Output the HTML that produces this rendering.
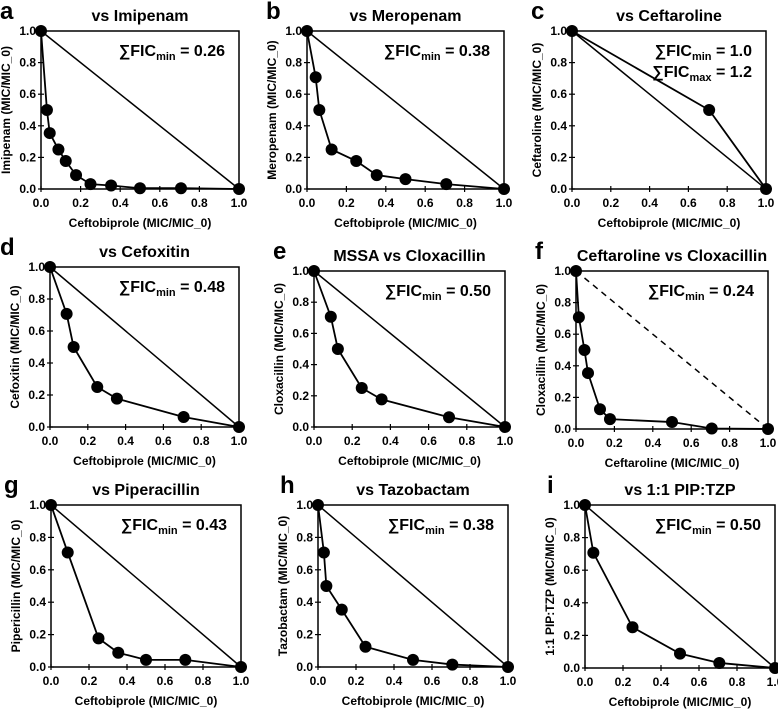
<!DOCTYPE html>
<html><head><meta charset="utf-8"><style>
body{margin:0;background:#fff;width:778px;height:709px;overflow:hidden}
svg text{font-family:"Liberation Sans",sans-serif;font-weight:bold;fill:#000}
</style></head><body>
<svg id="fig" width="778" height="709" xmlns="http://www.w3.org/2000/svg"></svg>
<script>
const tickLabels = ["0.0","0.2","0.4","0.6","0.8","1.0"];
const tickValues = [0,0.2,0.4,0.6,0.8,1.0];
const aX=[0,0.03,0.044,0.088,0.125,0.177,0.25,0.354,0.5,0.707,1];
const aY=[1,0.5,0.354,0.25,0.177,0.088,0.031,0.022,0.005,0.005,0];
const bX=[0,0.044,0.0625,0.125,0.25,0.354,0.5,0.707,1];
const bY=[1,0.707,0.5,0.25,0.177,0.088,0.0625,0.031,0];
const cX=[0,0.707,1];
const cY=[1,0.5,0];
const dX=[0,0.088,0.125,0.25,0.354,0.707,1];
const dY=[1,0.707,0.5,0.25,0.177,0.0625,0];
const eX=[0,0.088,0.125,0.25,0.354,0.707,1];
const eY=[1,0.707,0.5,0.25,0.177,0.0625,0];
const fX=[0,0.015,0.044,0.0625,0.125,0.177,0.5,0.707,1];
const fY=[1,0.707,0.5,0.354,0.125,0.0625,0.044,0.003,0];
const gX=[0,0.088,0.25,0.354,0.5,0.707,1];
const gY=[1,0.707,0.177,0.088,0.044,0.044,0];
const hX=[0,0.031,0.044,0.125,0.25,0.5,0.707,1];
const hY=[1,0.707,0.5,0.354,0.125,0.044,0.015,0];
const iX=[0,0.044,0.25,0.5,0.707,1];
const iY=[1,0.707,0.25,0.088,0.031,0];

const panels=[
 {id:'a',title:'vs Imipenam',yt:'Imipenam (MIC/MIC_0)',xt:'Ceftobiprole (MIC/MIC_0)',x:aX,y:aY,L:41,R:239,T:31,B:189,ann:[['min','0.26']]},
 {id:'b',title:'vs Meropenam',yt:'Meropenam (MIC/MIC_0)',xt:'Ceftobiprole (MIC/MIC_0)',x:bX,y:bY,L:307,R:504,T:31,B:189,ann:[['min','0.38']]},
 {id:'c',title:'vs Ceftaroline',yt:'Ceftaroline (MIC/MIC_0)',xt:'Ceftobiprole (MIC/MIC_0)',x:cX,y:cY,L:572,R:766,T:31,B:189,ann:[['min','1.0'],['max','1.2']]},
 {id:'d',title:'vs Cefoxitin',yt:'Cefoxitin (MIC/MIC_0)',xt:'Ceftobiprole (MIC/MIC_0)',x:dX,y:dY,L:50,R:239,T:267,B:427,ann:[['min','0.48']]},
 {id:'e',title:'MSSA vs Cloxacillin',yt:'Cloxacillin (MIC/MIC_0)',xt:'Ceftobiprole (MIC/MIC_0)',x:eX,y:eY,L:314,R:505,T:271,B:427,ann:[['min','0.50']]},
 {id:'f',title:'Ceftaroline vs Cloxacillin',yt:'Cloxacillin (MIC/MIC_0)',xt:'Ceftaroline (MIC/MIC_0)',x:fX,y:fY,L:576,R:768,T:271,B:429,ann:[['min','0.24']],dash:true},
 {id:'g',title:'vs Piperacillin',yt:'Pipericillin (MIC/MIC_0)',xt:'Ceftobiprole (MIC/MIC_0)',x:gX,y:gY,L:51,R:241,T:505,B:667,ann:[['min','0.43']],cond:true},
 {id:'h',title:'vs Tazobactam',yt:'Tazobactam (MIC/MIC_0)',xt:'Ceftobiprole (MIC/MIC_0)',x:hX,y:hY,L:318,R:508,T:505,B:667,ann:[['min','0.38']],cond:true},
 {id:'i',title:'vs 1:1 PIP:TZP',yt:'1:1 PIP:TZP (MIC/MIC_0)',xt:'Ceftobiprole (MIC/MIC_0)',x:iX,y:iY,L:585,R:775,T:505,B:668,ann:[['min','0.50']],cond:true}
];
const NS='http://www.w3.org/2000/svg';
const svg=document.getElementById('fig');
function mk(tag,attrs,parent,txt){const e=document.createElementNS(NS,tag);for(const k in attrs)e.setAttribute(k,attrs[k]);if(txt!==undefined)e.textContent=txt;parent.appendChild(e);return e;}
panels.forEach(p=>{
 const g=mk('g',{},svg);
 
 
 const sx=v=>p.L+v*(p.R-p.L), sy=v=>p.B-v*(p.B-p.T);
 const fs='';
 const frame=mk('rect',{x:p.L,y:p.T,width:p.R-p.L,height:p.B-p.T,fill:'none',stroke:'#000','stroke-width':1.5},g);
 
 
 tickValues.forEach((v,k)=>{
  mk('line',{x1:sx(v),x2:sx(v),y1:p.B-3,y2:p.B+3,stroke:'#000','stroke-width':1.2},g);
  mk('line',{x1:p.L-3,x2:p.L+3,y1:sy(v),y2:sy(v),stroke:'#000','stroke-width':1.2},g);
  const xt=mk('text',{x:sx(v),y:p.B+18,'text-anchor':'middle','font-size':12},g,tickLabels[k]);
  
  
  const yt=mk('text',{x:p.L-5,y:sy(v)+4,'text-anchor':'end','font-size':12},g,tickLabels[k]);
  
  
 });
 const add=mk('line',{x1:sx(0),y1:sy(1),x2:sx(1),y2:sy(0),stroke:'#000','stroke-width':1.5,'stroke-dasharray':p.dash?'6,5':'none'},g);
 
 
 const pts=p.x.map((v,k)=>sx(v)+','+sy(p.y[k])).join(' ');
 const pl=mk('polyline',{points:pts,fill:'none',stroke:'#000','stroke-width':1.8},g);
 
 
 p.x.forEach((v,k)=>{
  const c=mk('circle',{cx:sx(v),cy:sy(p.y[k]),r:6,fill:'#000'},g);
  
  
 });
 const cx=(p.L+p.R)/2;
 const t=mk('text',{x:cx,y:p.T-10,'text-anchor':'middle','font-size':16},g,p.title);
 
 
 const lt=mk('text',{x:p.L-41+(p.cond?3:0)-(p.id==='d'||p.id==='g'?9:0),y:p.T-12,'font-size':24},g,p.id);
 
 
 const xa=mk('text',{x:cx,y:p.B+38,'text-anchor':'middle','font-size':12},g,p.xt);
 
 
 const yx=p.L-31, yc=(p.T+p.B)/2;
 const ya=mk('text',{x:yx,y:yc,'text-anchor':'middle','font-size':12,transform:`rotate(-90 ${yx} ${yc})`},g,p.yt);
 
 
 p.ann.forEach((a,k)=>{
  const an=mk('text',{x:p.R-14,y:p.T+25+k*21,'text-anchor':'end','font-size':16},g);
  
  
  mk('tspan',{},an,'∑FIC');
  mk('tspan',{'font-size':11,dy:4},an,a[0]);
  mk('tspan',{dy:-4},an,' = '+a[1]);
 });
});
</script>
</body></html>
